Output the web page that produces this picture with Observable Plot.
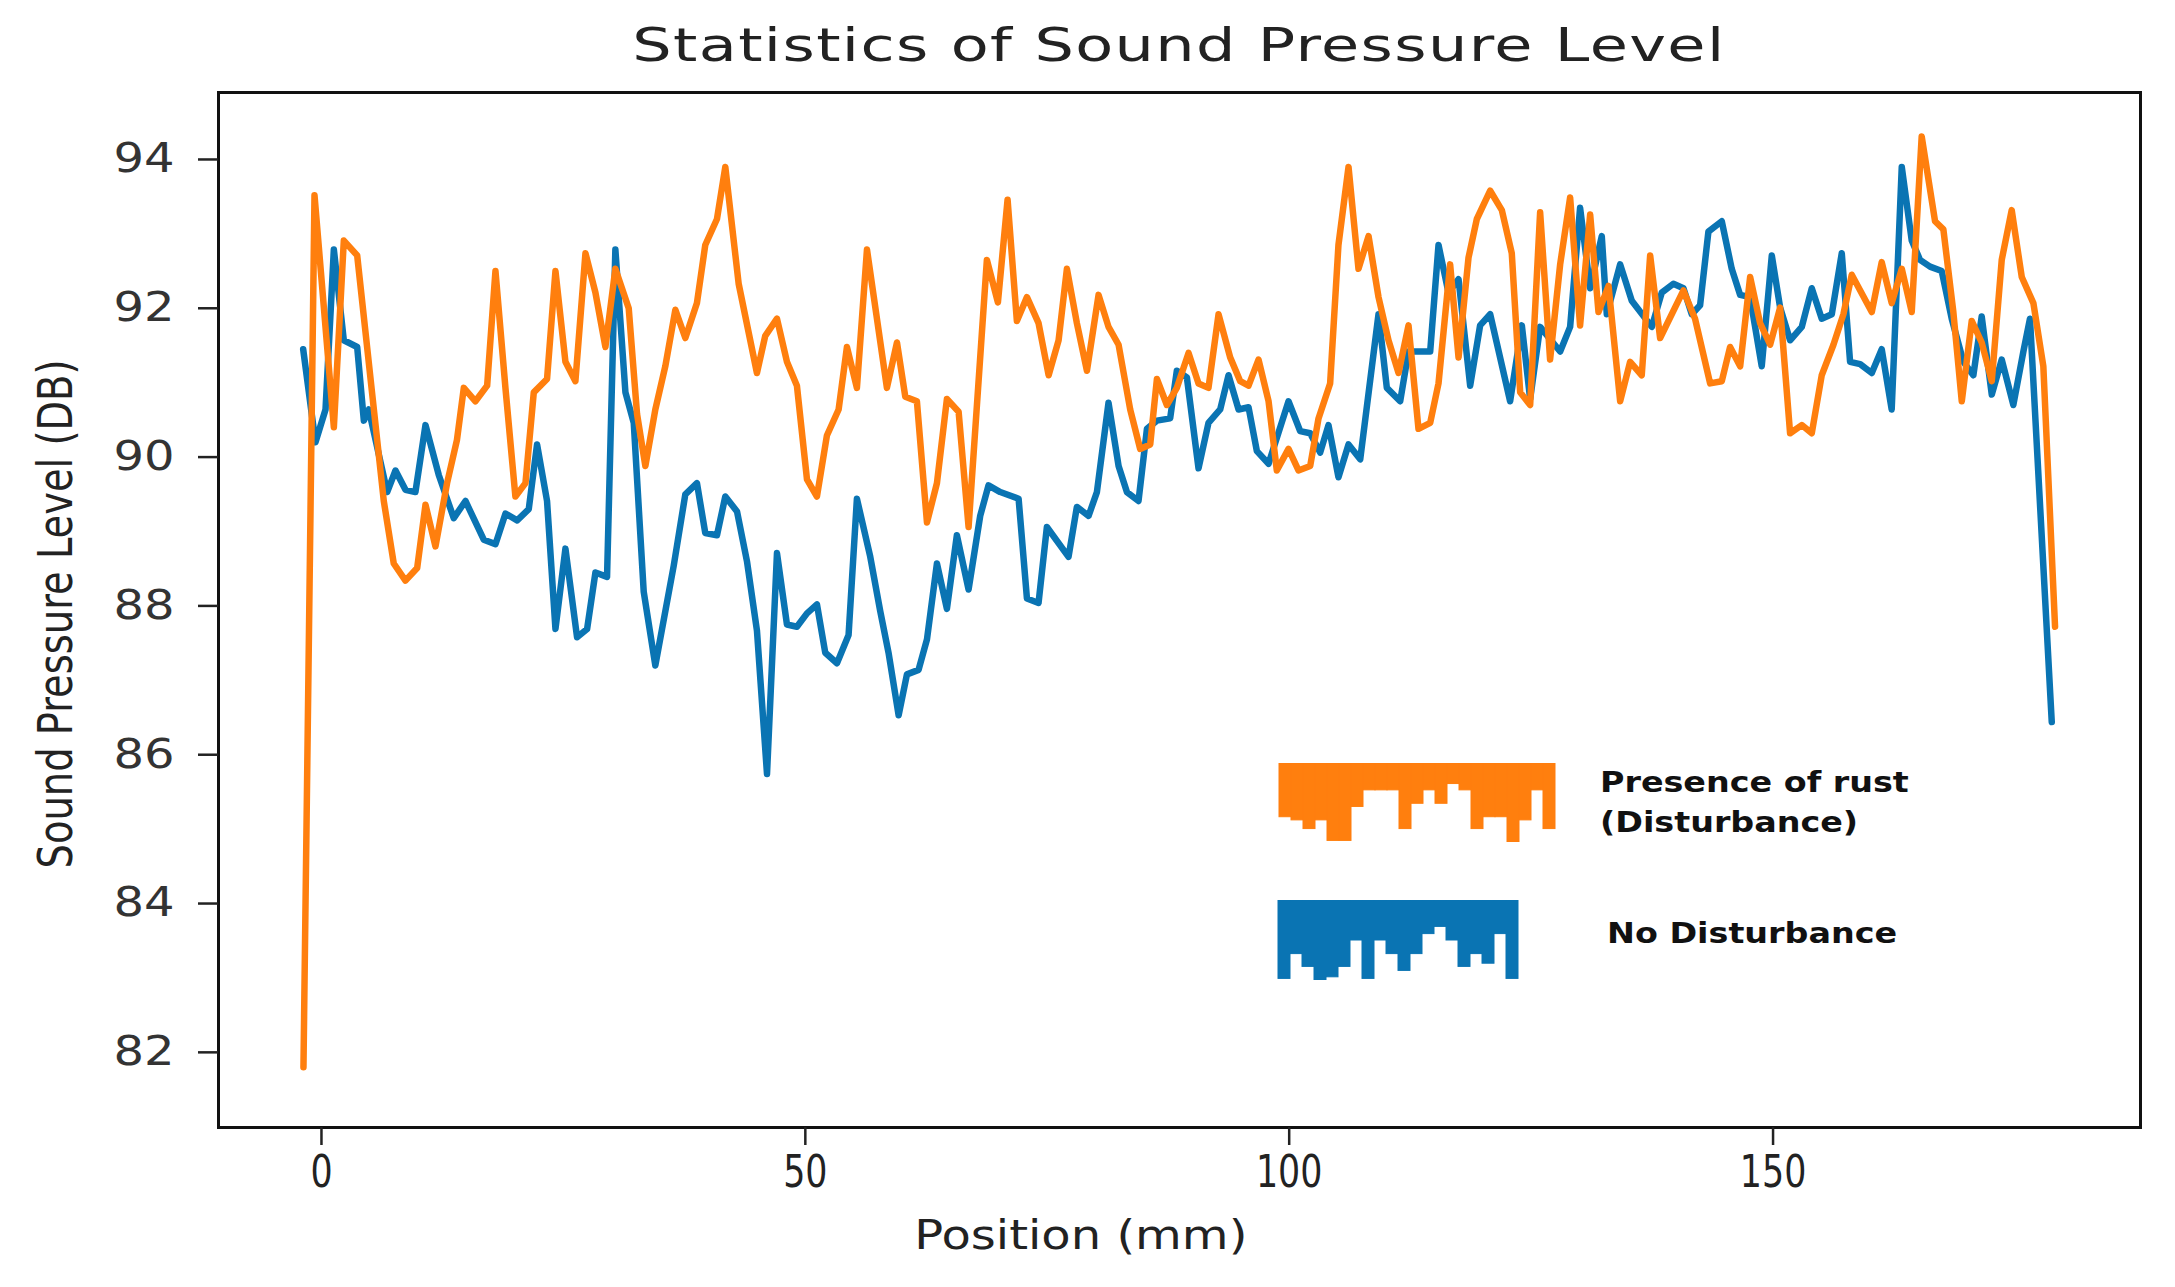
<!DOCTYPE html>
<html>
<head>
<meta charset="utf-8">
<script src="https://cdn.jsdelivr.net/npm/d3@7"></script>
<script src="https://cdn.jsdelivr.net/npm/@observablehq/plot@0.6"></script>
<style>
  body { margin: 0; background: #fff; }
  #chart { position: relative; width: 2175px; height: 1287px; overflow: hidden; font-family: "DejaVu Sans", sans-serif; }
  #chart > * { position: absolute; }
  .title { left: 218px; width: 1922px; top: 18px; text-align: center; font-size: 46px; letter-spacing: 1px; color: #222; }
  .title span, .xlabel span { display: inline-block; }
  .xlabel { left: 781px; width: 600px; top: 1212px; text-align: center; font-size: 40px; color: #222; }
  .ylabel { left: 55px; top: 614px; transform: translate(-50%, -50%) rotate(-90deg) scaleX(0.89); white-space: nowrap;
            font-family: "Liberation Sans Narrow", "DejaVu Sans Condensed", "Open Sans", sans-serif; font-size: 48px; color: #222; }
  .legtext { font-weight: bold; font-size: 29px; line-height: 40px; color: #111; white-space: nowrap; transform-origin: 0 0; transform: scaleX(1.15); }
</style>
</head>
<body>
<div id="chart"></div>
<script>
// Presence of rust (Disturbance) — orange
const rustPos = [-1.86, -0.72, 1.28, 2.31, 3.69, 6.44, 7.47, 8.68, 9.89, 10.75, 11.78, 12.98, 14.0, 14.71, 15.91, 17.12, 17.98, 19.01, 20.04, 21.08, 21.94, 23.31, 24.18, 25.21, 26.24, 27.28, 28.31, 29.34, 30.37, 31.75, 32.61, 33.47, 34.5, 35.53, 36.57, 37.6, 38.8, 39.66, 40.87, 41.73, 43.11, 45.0, 45.86, 47.07, 48.1, 49.13, 50.17, 51.2, 52.23, 53.44, 54.3, 55.33, 56.37, 58.43, 59.47, 60.33, 61.53, 62.57, 63.6, 64.63, 65.84, 66.87, 68.76, 69.9, 70.9, 71.86, 72.9, 74.1, 75.14, 76.17, 77.03, 78.06, 79.1, 80.3, 81.33, 82.37, 83.57, 84.6, 85.64, 86.33, 87.36, 88.39, 89.6, 90.63, 91.66, 92.7, 93.9, 94.94, 95.8, 96.83, 97.87, 98.72, 99.93, 100.96, 102.17, 103.03, 104.23, 105.09, 106.13, 107.16, 108.2, 109.23, 110.26, 111.3, 112.33, 113.36, 114.57, 115.43, 116.63, 117.5, 118.53, 119.39, 120.77, 121.97, 123.0, 123.87, 124.9, 125.93, 126.96, 128.0, 129.03, 130.06, 131.1, 131.96, 133.0, 134.2, 135.23, 136.43, 137.3, 138.33, 140.74, 141.94, 143.5, 144.7, 145.56, 146.6, 147.63, 148.66, 149.7, 150.73, 151.76, 152.97, 154.0, 155.03, 156.24, 157.27, 158.13, 160.2, 161.23, 162.26, 163.3, 164.33, 165.36, 166.74, 167.6, 168.63, 169.5, 170.53, 171.56, 172.6, 173.63, 174.66, 175.7, 176.9, 177.93, 179.14];
const rustSPL = [81.8, 93.52, 90.4, 92.91, 92.71, 89.41, 88.57, 88.34, 88.51, 89.36, 88.8, 89.65, 90.23, 90.93, 90.75, 90.96, 92.5, 90.93, 89.47, 89.65, 90.87, 91.05, 92.5, 91.28, 91.02, 92.74, 92.21, 91.48, 92.53, 92.0, 90.58, 89.88, 90.64, 91.22, 91.98, 91.6, 92.07, 92.85, 93.2, 93.9, 92.33, 91.13, 91.63, 91.86, 91.28, 90.96, 89.7, 89.47, 90.29, 90.64, 91.48, 90.93, 92.79, 90.93, 91.54, 90.81, 90.75, 89.12, 89.65, 90.78, 90.61, 89.06, 92.65, 92.08, 93.46, 91.83, 92.15, 91.8, 91.1, 91.57, 92.53, 91.8, 91.16, 92.18, 91.75, 91.51, 90.64, 90.11, 90.17, 91.05, 90.7, 90.93, 91.4, 90.99, 90.93, 91.92, 91.34, 91.02, 90.96, 91.31, 90.75, 89.82, 90.11, 89.82, 89.88, 90.52, 90.99, 92.85, 93.9, 92.53, 92.97, 92.15, 91.57, 91.13, 91.77, 90.38, 90.46, 90.99, 92.59, 91.34, 92.68, 93.2, 93.58, 93.32, 92.74, 90.87, 90.7, 93.29, 91.31, 92.59, 93.49, 91.77, 93.26, 91.95, 92.3, 90.75, 91.28, 91.1, 92.71, 91.6, 92.24, 91.86, 90.99, 91.02, 91.48, 91.22, 92.42, 91.8, 91.51, 92.01, 90.32, 90.43, 90.32, 91.1, 91.51, 91.92, 92.45, 91.95, 92.62, 92.07, 92.53, 91.95, 94.31, 93.17, 93.06, 91.95, 90.75, 91.83, 91.54, 91.02, 92.65, 93.32, 92.42, 92.07, 91.22, 87.72];

// No Disturbance — blue
const cleanPos = [-1.89, -0.62, 0.42, 1.28, 2.31, 3.69, 4.38, 4.89, 6.79, 7.65, 8.68, 9.71, 10.75, 12.12, 13.67, 14.88, 16.77, 17.98, 19.01, 20.22, 21.42, 22.28, 23.31, 24.18, 25.21, 26.41, 27.45, 28.31, 29.51, 30.37, 31.41, 32.27, 33.3, 34.5, 36.4, 37.6, 38.8, 39.66, 40.87, 41.73, 42.94, 43.97, 45.0, 46.04, 47.07, 48.1, 49.13, 50.17, 51.2, 52.06, 53.27, 54.47, 55.33, 56.71, 57.74, 58.6, 59.64, 60.5, 61.7, 62.57, 63.6, 64.63, 65.66, 66.87, 68.07, 68.93, 70.14, 72.04, 72.9, 74.1, 74.96, 77.2, 78.06, 79.27, 80.13, 81.33, 82.37, 83.23, 84.43, 85.3, 86.33, 87.7, 88.39, 89.43, 90.63, 91.66, 92.87, 93.73, 94.77, 95.8, 96.66, 97.87, 99.93, 101.13, 102.17, 103.2, 104.06, 105.09, 106.13, 107.34, 109.23, 110.09, 111.47, 112.33, 114.57, 115.43, 116.46, 117.5, 118.7, 119.73, 120.77, 122.83, 124.04, 124.9, 125.93, 128.0, 129.03, 130.06, 131.1, 132.3, 132.82, 134.2, 135.4, 137.47, 138.5, 139.7, 140.74, 141.6, 142.46, 143.32, 144.7, 145.73, 146.6, 147.63, 148.83, 149.87, 150.73, 151.76, 152.97, 154.0, 155.03, 156.07, 157.1, 157.96, 159.0, 160.2, 161.23, 162.26, 163.3, 164.33, 165.19, 166.22, 167.43, 168.46, 169.67, 170.7, 171.56, 172.6, 173.63, 174.83, 175.87, 176.55, 178.8];
const cleanSPL = [91.45, 90.2, 90.64, 92.79, 91.57, 91.48, 90.49, 90.64, 89.53, 89.82, 89.56, 89.53, 90.43, 89.76, 89.18, 89.41, 88.89, 88.83, 89.24, 89.15, 89.3, 90.17, 89.41, 87.69, 88.77, 87.58, 87.69, 88.45, 88.39, 92.79, 90.87, 90.46, 88.19, 87.2, 88.54, 89.5, 89.65, 88.98, 88.95, 89.47, 89.27, 88.6, 87.67, 85.74, 88.71, 87.75, 87.72, 87.9, 88.02, 87.37, 87.23, 87.61, 89.44, 88.66, 87.93, 87.37, 86.53, 87.08, 87.14, 87.55, 88.57, 87.96, 88.95, 88.22, 89.21, 89.62, 89.53, 89.44, 88.1, 88.04, 89.06, 88.66, 89.33, 89.21, 89.53, 90.73, 89.88, 89.53, 89.41, 90.38, 90.49, 90.52, 91.16, 91.07, 89.85, 90.46, 90.64, 91.1, 90.64, 90.67, 90.08, 89.91, 90.75, 90.35, 90.32, 90.06, 90.43, 89.73, 90.17, 89.97, 91.92, 90.93, 90.75, 91.42, 91.42, 92.85, 92.21, 92.39, 90.96, 91.77, 91.92, 90.75, 91.77, 90.78, 91.75, 91.42, 91.75, 93.35, 92.27, 92.97, 91.92, 92.59, 92.1, 91.75, 92.21, 92.33, 92.27, 91.92, 92.04, 93.03, 93.17, 92.53, 92.18, 92.15, 91.22, 92.71, 92.01, 91.57, 91.75, 92.27, 91.86, 91.92, 92.74, 91.28, 91.25, 91.13, 91.45, 90.64, 93.9, 92.91, 92.65, 92.56, 92.5, 91.86, 91.28, 91.1, 91.89, 90.84, 91.31, 90.7, 91.42, 91.86, 86.44];

const yTicks = [82, 84, 86, 88, 90, 92, 94];
const xTicks = [0, 50, 100, 150];

// the odd "hanging bars" legend swatches (relative depth of each column)
const rustSwatch = [0.68, 0.72, 0.83, 0.72, 0.98, 0.98, 0.55, 0.34, 0.34, 0.34, 0.83, 0.51, 0.34, 0.51, 0.26, 0.34, 0.83, 0.68, 0.68, 1.0, 0.72, 0.34, 0.83];
const cleanSwatch = [0.98, 0.67, 0.83, 1.0, 0.96, 0.83, 0.5, 0.98, 0.5, 0.67, 0.88, 0.67, 0.42, 0.33, 0.5, 0.83, 0.67, 0.79, 0.42, 0.98];

const orange = "#ff7f0e";
const blue = "#0a74b3";

const rust = rustPos.map((p, i) => ({pos: p, spl: rustSPL[i]}));
const clean = cleanPos.map((p, i) => ({pos: p, spl: cleanSPL[i]}));

const root = document.getElementById("chart");

const chart = Plot.plot({
  width: 2175,
  height: 1287,
  marginTop: 92,
  marginLeft: 218,
  marginRight: 35,
  marginBottom: 160,
  style: {background: "transparent", overflow: "visible"},
  x: {domain: [-10.64, 187.97]},
  y: {domain: [80.99, 94.9]},
  marks: [
    Plot.frame({stroke: "#111", strokeWidth: 3}),
    Plot.axisY(yTicks, {tickSize: 20, tickPadding: 24, tickFormat: d3.format("d"), fontSize: 40, fontFamily: "DejaVu Sans, sans-serif", fill: "#333", stroke: "#222", strokeWidth: 2.5, label: null}),
    Plot.axisX(xTicks, {tickSize: 18, tickPadding: 10, fontSize: 44, fontFamily: "'Liberation Sans Narrow', 'DejaVu Sans Condensed', sans-serif", fill: "#222", stroke: "#222", strokeWidth: 2.5, label: null}),
    Plot.line(clean, {x: "pos", y: "spl", stroke: blue, strokeWidth: 6.5, strokeLinejoin: "round"}),
    Plot.line(rust, {x: "pos", y: "spl", stroke: orange, strokeWidth: 6.5, strokeLinejoin: "round"})
  ]
});
chart.style.left = "0px";
chart.style.top = "0px";
root.appendChild(chart);

// the source image is stretched sideways a little: widen / narrow tick labels to match
function stretch(label, k) {
  chart.querySelectorAll(`g[aria-label="${label}"] text`).forEach(t => {
    t.setAttribute("textLength", t.getComputedTextLength() * k);
    t.setAttribute("lengthAdjust", "spacingAndGlyphs");
  });
}
stretch("y-axis tick label", 1.2);
stretch("x-axis tick label", 0.88);

function swatch(depths, color, w, h) {
  return Plot.plot({
    width: w, height: h, margin: 0,
    style: {background: "transparent"},
    x: {axis: null, type: "band", padding: 0},
    y: {axis: null, domain: [0, 1], reverse: true},
    marks: [Plot.barY(depths, {x: (d, i) => i, y: d => d, fill: color, stroke: color, strokeWidth: 1})]
  });
}

const s1 = swatch(rustSwatch, orange, 282, 79);
s1.style.left = "1276px"; s1.style.top = "763px";
root.appendChild(s1);
const s2 = swatch(cleanSwatch, blue, 251, 80);
s2.style.left = "1272px"; s2.style.top = "900px";
root.appendChild(s2);

function addDiv(cls, html, css) {
  const d = document.createElement("div");
  d.className = cls;
  d.innerHTML = html;
  Object.assign(d.style, css || {});
  root.appendChild(d);
  return d;
}

addDiv("title", '<span style="transform: scaleX(1.35)">Statistics of Sound Pressure Level</span>');
addDiv("xlabel", '<span style="transform: scaleX(1.2)">Position (mm)</span>');
addDiv("ylabel", "Sound Pressure Level (DB)");
addDiv("legtext", "Presence of rust<br>(Disturbance)", {left: "1600px", top: "762px"});
addDiv("legtext", "No Disturbance", {left: "1607px", top: "913px"});
</script>
</body>
</html>
